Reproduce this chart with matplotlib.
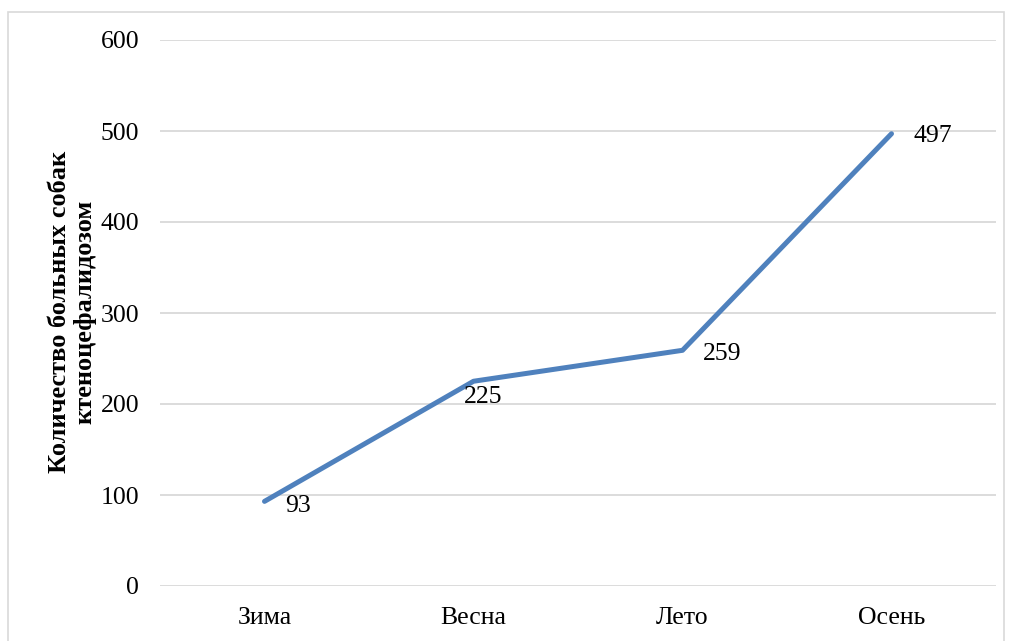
import matplotlib.pyplot as plt
from matplotlib.patches import Rectangle

seasons = ['Зима', 'Весна', 'Лето', 'Осень']
counts = [93, 225, 259, 497]
yticks = [0, 100, 200, 300, 400, 500, 600]
# label offsets in pixels (dx, dy)
label_offsets = [(21, -5), (-10, -16), (20, -4), (22, -2)]

plt.rcParams['font.family'] = ['Liberation Serif', 'DejaVu Serif']

W, H = 1009, 641
fig = plt.figure(figsize=(W / 100, H / 100), dpi=100)
ax = fig.add_axes([160 / W, 1 - 586 / H, 836 / W, 546 / H])

# outer chart border
fig.patches.append(Rectangle((8 / W, -0.05), 996 / W, 1 - 12 / H + 0.05,
                             transform=fig.transFigure, fill=False,
                             edgecolor='#D9D9D9', linewidth=1.2))

x = list(range(len(seasons)))
ax.plot(x, counts, color='#4F81BD', linewidth=3.6, solid_capstyle='round',
        solid_joinstyle='round', zorder=3)

for xi, v, (dx, dy) in zip(x, counts, label_offsets):
    ax.annotate(str(v), (xi, v), xytext=(dx, dy), textcoords='offset pixels',
                ha='left', va='center', fontsize=18.5, color='black')

ax.set_xlim(-0.5, 3.5)
ax.set_ylim(0, 600)
ax.set_yticks(yticks)
ax.set_xticks(x)
ax.set_xticklabels(seasons)
ax.tick_params(axis='both', length=0, labelsize=18.5)
ax.tick_params(axis='y', pad=15)
ax.tick_params(axis='x', pad=15)
ax.grid(axis='y', color='#D9D9D9', linewidth=1.3)
ax.set_axisbelow(True)
for s in ax.spines.values():
    s.set_visible(False)

fig.text(72 / W, 1 - 312 / H, 'Количество больных собак\nктеноцефалидозом',
         rotation=90, ha='center', va='center', multialignment='center',
         fontsize=19, fontweight='bold', linespacing=1.15)

fig.savefig('out.png', dpi=100)
